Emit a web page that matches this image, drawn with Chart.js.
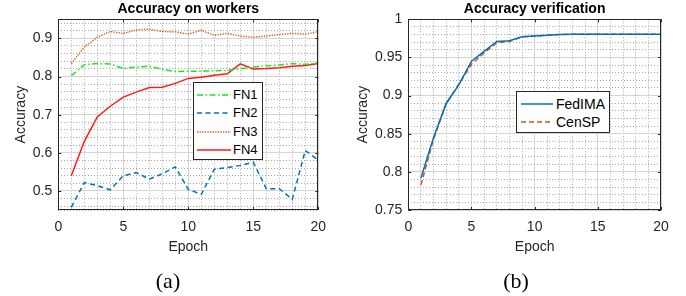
<!DOCTYPE html>
<html><head><meta charset="utf-8">
<script src="https://cdn.jsdelivr.net/npm/chart.js@4/dist/chart.umd.min.js"></script>
<style>
body{margin:0;background:#fff;width:686px;height:296px;overflow:hidden;position:relative;font-family:"Liberation Sans",Arial,sans-serif;}
.wrap{position:absolute;top:0;height:296px;}
.legend{position:absolute;background:#fff;border:1px solid #262626;box-sizing:border-box;}
.row{position:absolute;left:0;height:18px;width:100%;}
.row svg{position:absolute;top:0;}
.row span{position:absolute;top:0;line-height:18px;color:#000;white-space:nowrap;}
.cap{position:absolute;font-family:"Liberation Serif","Times New Roman",serif;font-size:22px;color:#000;transform:translate(-50%,-50%);white-space:nowrap;}
</style></head><body>
<div class="wrap" style="left:0;width:340px"><canvas id="c1" width="340" height="296"></canvas></div>
<div class="wrap" style="left:340px;width:346px"><canvas id="c2" width="346" height="296"></canvas></div>
<div id="leg1" class="legend" style="left:193px;top:82px;width:70px;height:78px"></div>
<div id="leg2" class="legend" style="left:516px;top:91px;width:94px;height:42px"></div>
<div class="cap" style="left:168px;top:281px">(a)</div>
<div class="cap" style="left:516px;top:281px">(b)</div>
<script>
// ---- data ----
const epochs = [1,2,3,4,5,6,7,8,9,10,11,12,13,14,15,16,17,18,19,20];
const fn1 = [0.802,0.831,0.834,0.833,0.821,0.825,0.827,0.819,0.813,0.814,0.814,0.815,0.816,0.820,0.825,0.828,0.830,0.834,0.832,0.836];
const fn2 = [0.457,0.522,0.514,0.503,0.540,0.548,0.531,0.545,0.563,0.504,0.491,0.557,0.561,0.567,0.575,0.506,0.506,0.478,0.606,0.581];
const fn3 = [0.834,0.877,0.903,0.918,0.913,0.922,0.924,0.918,0.917,0.911,0.921,0.908,0.913,0.906,0.903,0.906,0.910,0.913,0.911,0.918];
const fn4 = [0.540,0.630,0.694,0.722,0.746,0.759,0.771,0.772,0.782,0.795,0.798,0.803,0.807,0.833,0.820,0.821,0.823,0.827,0.829,0.834];
const fedima = [0.792,0.845,0.890,0.914,0.945,0.958,0.971,0.972,0.977,0.978,0.979,0.980,0.9805,0.9805,0.9805,0.9805,0.9805,0.9805,0.9805,0.9805];
const censp  = [0.783,0.843,0.889,0.915,0.941,0.956,0.969,0.971,0.977,0.978,0.979,0.980,0.9805,0.9805,0.9805,0.9805,0.9805,0.9805,0.9805,0.9805];
const xTicks = [0,5,10,15,20];
const yTicksA = [0.5,0.6,0.7,0.8,0.9];
const yTicksB = [0.75,0.8,0.85,0.9,0.95,1];
const seriesA = ['FN1','FN2','FN3','FN4'];
const seriesB = ['FedIMA','CenSP'];

// ---- styles ----
const FONT = '"Liberation Sans", Arial, sans-serif';
const styleA = [
  {color:'#1fe31f', dash:[6,2.5,1.5,2.5], width:1.5},
  {color:'#0072BD', dash:[5,3.5], width:1.5},
  {color:'#D95319', dash:[1.3,1.3], width:1.4},
  {color:'#FF1a1a', dash:[], width:1.5}
];
const styleB = [
  {color:'#0072BD', dash:[], width:1.5},
  {color:'#D95319', dash:[5,3], width:1.5}
];
const MAJ = '#d4d4d4', MIN = '#a8a8a8';

function near(v, list){ return list.some(m => Math.abs(m - v) < 1e-7); }
function gridVals(min, max, step){
  const out=[min];
  let k=Math.ceil(min/step - 1e-6);
  while(true){
    const v=Math.round(k*step*10000)/10000;
    if(v > max - 1e-9) break;
    if(v > min + 1e-9) out.push(v);
    k++;
  }
  out.push(max);
  return out;
}
function toXY(ys){ return ys.map((y,i)=>({x:epochs[i], y:y})); }

const framePlugin = {
  id:'frame',
  afterDatasetsDraw(chart){
    const {ctx, chartArea:a, scales} = chart;
    ctx.save();
    ctx.strokeStyle='#262626'; ctx.lineWidth=1;
    ctx.strokeRect(Math.round(a.left)+0.5, Math.round(a.top)+0.5, Math.round(a.right-a.left)-1, Math.round(a.bottom-a.top)-1);
    const tl=3;
    ctx.beginPath();
    xTicks.forEach(v=>{ const p=Math.round(scales.x.getPixelForValue(v))+0.5;
      ctx.moveTo(p,a.bottom); ctx.lineTo(p,a.bottom-tl); ctx.moveTo(p,a.top); ctx.lineTo(p,a.top+tl); });
    chart.options.scales.y._majors.forEach(v=>{ const p=Math.round(scales.y.getPixelForValue(v))+0.5;
      ctx.moveTo(a.left,p); ctx.lineTo(a.left+tl,p); ctx.moveTo(a.right,p); ctx.lineTo(a.right-tl,p); });
    ctx.stroke();
    ctx.restore();
  }
};

function makeChart(id, opts){
  const xGrid = gridVals(0,20,1);
  const yGrid = gridVals(opts.ymin, opts.ymax, opts.ystep);
  const yMaj = opts.yMajors;
  return new Chart(document.getElementById(id), {
    type:'line',
    data:{datasets: opts.series.map((s,i)=>({
      label:s, data:toXY(opts.values[i]), borderColor:opts.styles[i].color,
      borderDash:opts.styles[i].dash, borderWidth:opts.styles[i].width,
      pointRadius:0, tension:0, fill:false
    }))},
    options:{
      responsive:false, animation:false, events:[],
      layout:{padding:{left:0,right:opts.padRight,top:1,bottom:0}},
      plugins:{
        legend:{display:false}, tooltip:{enabled:false},
        title:{display:true, text:opts.title, fullSize:false, color:'#000',
          font:{family:FONT,size:14,weight:'bold'}, padding:{top:0,bottom:1.5}}
      },
      scales:{
        x:{type:'linear', min:0, max:20,
          afterBuildTicks:s=>{ s.ticks = xGrid.map(v=>({value:v})); },
          afterFit:s=>{ s.height = 86; },
          grid:{drawTicks:false, color:c=> near(c.tick ? c.tick.value : 0, xTicks) ? MAJ : MIN, lineWidth:1},
          border:{display:false, dash:c=> (c.tick && !near(c.tick.value, xTicks)) ? [1,2] : []},
          ticks:{autoSkip:false, maxRotation:0, padding:8.5, color:'#262626', font:{family:FONT,size:14},
            callback:v=> near(v, xTicks) ? String(v) : ''},
          title:{display:true, text:'Epoch', color:'#262626', font:{family:FONT,size:14}, padding:{top:0,bottom:40.5}}
        },
        y:{type:'linear', min:opts.ymin, max:opts.ymax, _majors:yMaj,
          afterBuildTicks:s=>{ s.ticks = yGrid.map(v=>({value:v})); },
          afterFit:s=>{ s.width = opts.yWidth; },
          grid:{drawTicks:false, color:c=> near(c.tick ? c.tick.value : 0, yMaj) ? MAJ : MIN, lineWidth:1},
          border:{display:false, dash:c=> (c.tick && !near(c.tick.value, yMaj)) ? [1,2] : []},
          ticks:{autoSkip:false, padding:6, color:'#262626', font:{family:FONT,size:14},
            callback:v=> near(v, yMaj) ? String(Math.round(v*100)/100) : ''},
          title:{display:true, text:'Accuracy', color:'#262626', font:{family:FONT,size:14}, padding:{top:opts.yTitlePad,bottom:0}}
        }
      }
    },
    plugins:[framePlugin]
  });
}

makeChart('c1', {title:'Accuracy on workers', series:seriesA, values:[fn1,fn2,fn3,fn4], styles:styleA,
  ymin:0.45, ymax:0.95, ystep:0.02, yMajors:yTicksA, padRight:21.7, yWidth:58.3, yTitlePad:12.5});
makeChart('c2', {title:'Accuracy verification', series:seriesB, values:[fedima,censp], styles:styleB,
  ymin:0.75, ymax:1, ystep:0.01, yMajors:yTicksB, padRight:25, yWidth:68.3, yTitlePad:15});

function buildLegend(id, names, styles, rowTops, lineX1, lineX2, textX, fontSize){
  const el=document.getElementById(id);
  names.forEach((n,i)=>{
    const r=document.createElement('div'); r.className='row'; r.style.top=(rowTops[i]-9)+'px';
    const w=lineX2-lineX1;
    r.innerHTML='<svg style="left:'+lineX1+'px" width="'+w+'" height="18"><line x1="0" y1="9" x2="'+w+'" y2="9" stroke="'+styles[i].color+'" stroke-width="'+styles[i].width+'" stroke-dasharray="'+(styles[i].dash.length?styles[i].dash.join(','):'none')+'"/></svg>'+
      '<span style="left:'+textX+'px;font-size:'+fontSize+'px">'+n+'</span>';
    el.appendChild(r);
  });
}
buildLegend('leg1', seriesA, styleA, [11.5,30,48.5,66.5], 3, 37, 39, 13);
buildLegend('leg2', seriesB, styleB, [11.5,30], 4, 36, 39, 14);
</script>
</body></html>
